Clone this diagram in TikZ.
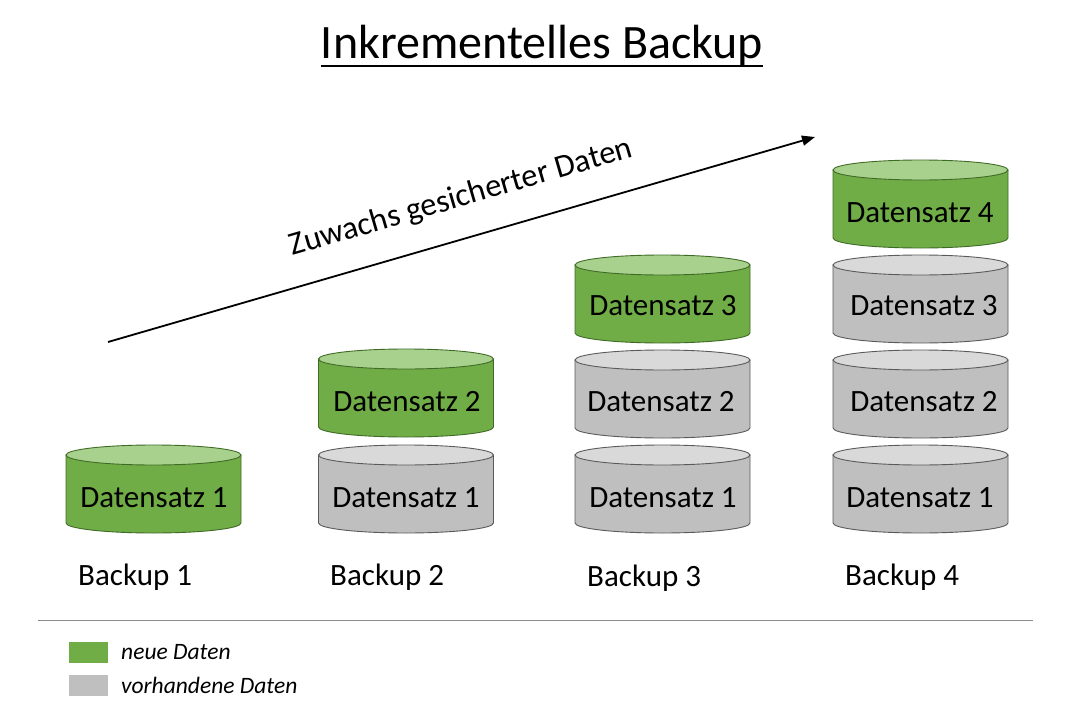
\documentclass[tikz,border=0pt]{standalone}
\usepackage{fontspec}
\setmainfont{Carlito}
\usetikzlibrary{arrows.meta}
\definecolor{gbody}{HTML}{70AD47}
\definecolor{gtop}{HTML}{A9D18E}
\definecolor{gline}{HTML}{3F6B26}
\definecolor{sbody}{HTML}{BFBFBF}
\definecolor{stop}{HTML}{D9D9D9}
\definecolor{sline}{HTML}{5A5A5A}
\definecolor{sep}{HTML}{8C8C8C}
\tikzset{
  dstext/.style={inner sep=0pt, font=\fontsize{31}{37}\selectfont},
  lbltext/.style={inner sep=0pt, anchor=west, font=\fontsize{31}{37}\selectfont},
  legtext/.style={inner sep=0pt, anchor=west, font=\fontsize{23.5}{28}\selectfont\itshape},
  legbox/.style={draw=none, minimum width=39pt, minimum height=21pt, inner sep=0pt},
}
% #1 cx, #2 top centre y, #3 body colour, #4 top colour, #5 line colour
\newcommand\mycyl[5]{%
  \filldraw[fill=#3, draw=#5, line width=0.9pt]
    ({#1-87.5},#2) -- ({#1-87.5},{#2+68})
    arc[start angle=180, end angle=0, x radius=87.5, y radius=10]
    -- ({#1+87.5},#2) -- cycle;
  \filldraw[fill=#4, draw=#5, line width=0.9pt] (#1,#2) ellipse[x radius=87.5, y radius=10];
}
\begin{document}
\begin{tikzpicture}[x=1pt,y=-1pt]
\useasboundingbox[fill=white] (0,0) rectangle (1080,720);

% title
\node[inner sep=0pt, font=\fontsize{48}{56}\selectfont, anchor=base] (title) at (542,58) {Inkrementelles Backup};
\draw[line width=2.2pt] ([yshift=-8pt]title.base west) -- ([yshift=-8pt]title.base east);

% growth arrow
\coordinate (as) at (108,342);
\coordinate (ae) at (815,137);
\draw[line width=1.8pt, -{Triangle[length=13pt,width=10pt]}] (as) -- (ae);
\node[inner sep=0pt, rotate=16.2, font=\fontsize{32.5}{38}\selectfont] (zw) at (461,198) {Zuwachs gesicherter Daten};

% Backup 1
\mycyl{153.5}{455}{gbody}{gtop}{gline}
\node[dstext] (b1a) at (154,498) {Datensatz 1};
\node[lbltext] (lab1) at (78,577) {Backup 1};

% Backup 2
\mycyl{406}{455}{sbody}{stop}{sline}
\node[dstext] (b2a) at (406,498) {Datensatz 1};
\mycyl{406}{359}{gbody}{gtop}{gline}
\node[dstext] (b2b) at (407,402) {Datensatz 2};
\node[lbltext] (lab2) at (330,577) {Backup 2};

% Backup 3
\mycyl{662.5}{455}{sbody}{stop}{sline}
\node[dstext] (b3a) at (663,498) {Datensatz 1};
\mycyl{662.5}{360}{sbody}{stop}{sline}
\node[dstext] (b3b) at (661,402) {Datensatz 2};
\mycyl{662.5}{265}{gbody}{gtop}{gline}
\node[dstext] (b3c) at (663,306) {Datensatz 3};
\node[lbltext] (lab3) at (587,578) {Backup 3};

% Backup 4
\mycyl{920.5}{455}{sbody}{stop}{sline}
\node[dstext] (b4a) at (920,498) {Datensatz 1};
\mycyl{920.5}{360}{sbody}{stop}{sline}
\node[dstext] (b4b) at (924,402) {Datensatz 2};
\mycyl{920.5}{265}{sbody}{stop}{sline}
\node[dstext] (b4c) at (924,306) {Datensatz 3};
\mycyl{920.5}{170}{gbody}{gtop}{gline}
\node[dstext] (b4d) at (920,213) {Datensatz 4};
\node[lbltext] (lab4) at (845,577) {Backup 4};

% separator
\coordinate (s1) at (38,620);
\coordinate (s2) at (1033,620);
\draw[sep, line width=1pt] (s1) -- (s2);

% legend
\node[legbox, fill=gbody] (lg1) at (88.5,652) {};
\node[legtext] (lt1) at (121,652) {neue Daten};
\node[legbox, fill=sbody] (lg2) at (88.5,685) {};
\node[legtext] (lt2) at (121,685) {vorhandene Daten};
\end{tikzpicture}
\end{document}
